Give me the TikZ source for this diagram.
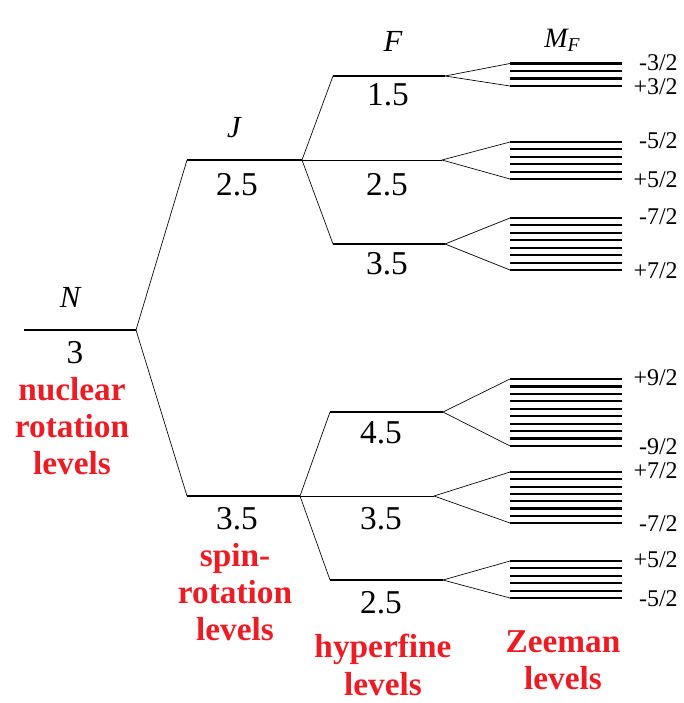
\documentclass[tikz,border=0pt]{standalone}
\usepackage{fontspec}
\setmainfont{Liberation Serif}[BoldFont={Liberation Serif Bold}, ItalicFont={Liberation Serif Italic}]
\definecolor{lblred}{RGB}{237,28,36}
\begin{document}
\begin{tikzpicture}[
  x=0.75pt, y=-0.75pt,
  level/.style={line width=1.5pt},
  thinlevel/.style={line width=0.6pt},
  link/.style={line width=0.5pt},
  zline/.style={line width=1.6pt},
  qnum/.style={font=\fontsize{25}{28}\selectfont, inner sep=0pt},
  qsym/.style={font=\itshape\fontsize{23}{26}\selectfont, inner sep=0pt},
  mlabel/.style={font=\fontsize{18}{20}\selectfont, inner sep=0pt, anchor=east},
  caption/.style={text=lblred, font=\bfseries\fontsize{25}{28}\selectfont, align=center, inner sep=0pt}
]
\useasboundingbox (0,0) rectangle (683,703);

% nuclear rotation level
\coordinate (Nl) at (24,330);
\coordinate (Nr) at (136,330);
\draw[level] (Nl) -- (Nr);
\node[qsym] (Nsym) at (70,297) {N};
\node[qnum] (Nval) at (75,353) {3};
\node[caption] (Ncap) at (72,426) {nuclear\\rotation\\levels};

% spin-rotation levels
\coordinate (J1l) at (187,160);
\coordinate (J1r) at (302,160);
\coordinate (J2l) at (187,496);
\coordinate (J2r) at (300,496);
\draw[level] (J1l) -- (J1r);
\draw[level] (J2l) -- (J2r);
\draw[link] (Nr) -- (J1l);
\draw[link] (Nr) -- (J2l);
\node[qsym] (Jsym) at (234,128) {J};
\node[qnum] (J1val) at (237,185) {2.5};
\node[qnum] (J2val) at (237,519) {3.5};
\node[caption] (Jcap) at (235,592) {spin-\\rotation\\levels};

% hyperfine levels
\coordinate (F1l) at (333,76);
\coordinate (F1r) at (445,76);
\coordinate (F2r) at (442,160);
\coordinate (F3l) at (333,244);
\coordinate (F3r) at (445,244);
\coordinate (F4l) at (330,412);
\coordinate (F4r) at (443,412);
\coordinate (F5r) at (434,496);
\coordinate (F6l) at (330,580);
\coordinate (F6r) at (443,580);
\draw[level] (F1l) -- (F1r);
\draw[thinlevel] (J1r) -- (F2r);
\draw[level] (F3l) -- (F3r);
\draw[level] (F4l) -- (F4r);
\draw[thinlevel] (J2r) -- (F5r);
\draw[level] (F6l) -- (F6r);
\draw[link] (J1r) -- (F1l);
\draw[link] (J1r) -- (F3l);
\draw[link] (J2r) -- (F4l);
\draw[link] (J2r) -- (F6l);
\node[qsym] (Fsym) at (393,41) {F};
\node[qnum] (F1val) at (388,95) {1.5};
\node[qnum] (F2val) at (387,185) {2.5};
\node[qnum] (F3val) at (387,264) {3.5};
\node[qnum] (F4val) at (381,433) {4.5};
\node[qnum] (F5val) at (381,519) {3.5};
\node[qnum] (F6val) at (381,603) {2.5};
\node[caption] (Fcap) at (383,665) {hyperfine\\levels};

% Zeeman levels
\node[font=\itshape\fontsize{21}{23}\selectfont, inner sep=0pt, anchor=base west] (Msym) at (544,47) {M\textsubscript{F}};
\foreach \g/\n/\t/\b/\lt/\lb in {F1/4/63.5/86/{-3/2}/{+3/2},
    F2/6/142/179/{-5/2}/{+5/2}, F3/8/218/270/{-7/2}/{+7/2},
    F4/10/379/446/{+9/2}/{-9/2}, F5/8/472/523/{+7/2}/{-7/2},
    F6/6/561/598/{+5/2}/{-5/2}}{
  \coordinate (\g top) at (510,\t);
  \coordinate (\g bot) at (510,\b);
  \draw[link] (\g r) -- (\g top);
  \draw[link] (\g r) -- (\g bot);
  \pgfmathsetmacro\dz{(\b-\t)/(\n-1)}
  \foreach \k in {1,...,\n}{
    \draw[zline] (510,{\t+(\k-1)*\dz}) -- (622,{\t+(\k-1)*\dz});
  }
  \node[mlabel] (\g mt) at (678,\t-1) {\lt};
  \node[mlabel] (\g mb) at (678,\b+1) {\lb};
}
\node[caption] (Zcap) at (563,660) {Zeeman\\levels};
\end{tikzpicture}
\end{document}
